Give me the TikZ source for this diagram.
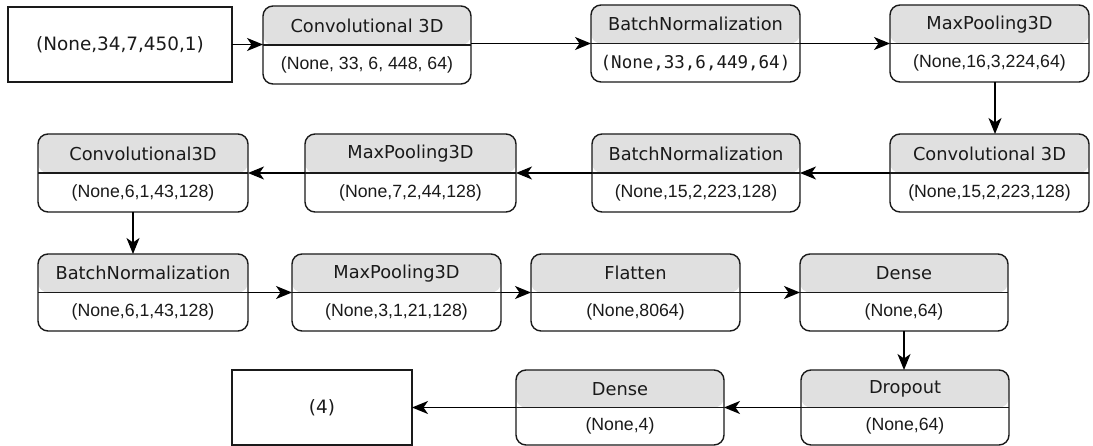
\documentclass[tikz,border=0pt]{standalone}
\usepackage{fontspec}
\usetikzlibrary{arrows.meta,calc}
\newfontfamily\hdfont{DejaVu Sans}
\newfontfamily\valfont{Liberation Sans}
\newfontfamily\mnfont{DejaVu Sans Mono}
\definecolor{headgray}{HTML}{E0E0E0}
\definecolor{ink}{HTML}{1A1A1A}
\tikzset{
  layerbox/.style={draw=ink, line width=1.4pt, rounded corners=10pt, inner sep=0pt, outer sep=0pt,
    path picture={
      \fill[headgray] (path picture bounding box.north west) rectangle (path picture bounding box.east);
      \draw[ink, line width=1.3pt] (path picture bounding box.west) -- (path picture bounding box.east);
    }},
  plainbox/.style={draw=ink, line width=1.4pt, inner sep=0pt, outer sep=0pt, fill=white},
  hdtxt/.style={inner sep=0pt, text=ink, font=\hdfont\fontsize{17.8}{20}\selectfont},
  valtxt/.style={inner sep=0pt, text=ink, font=\valfont\fontsize{17.7}{20}\selectfont},
  montxt/.style={inner sep=0pt, text=ink, font=\mnfont\fontsize{17.5}{20}\selectfont},
  iotxt/.style={inner sep=0pt, text=ink, font=\hdfont\fontsize{18.4}{20}\selectfont},
  arr/.style={draw=black, line width=1.3pt, -{Stealth[length=16pt,width=13pt,inset=4.5pt]}},
}
\newcommand\layer[8]{%
  \node[layerbox, minimum width={(#4-#2)*1pt}, minimum height={(#5-#3)*1pt}] (#1) at ({(#2+#4)/2},{-(#3+#5)/2}) {};
  \node[hdtxt] (#1h) at ($(#1.north)!0.5!(#1.center)$) {#6};
  \node[#7] (#1v) at ($(#1.south)!0.5!(#1.center)$) {#8};
}
\begin{document}
\begin{tikzpicture}[x=1pt,y=1pt]
\useasboundingbox[fill=white] (0,0) rectangle (1093,-446);
% input / output
\node[plainbox, minimum width=224pt, minimum height=75pt] (in) at (120,-44.5) {};
\node[iotxt] (intx) at (in.center) {(None,34,7,450,1)};
\node[plainbox, minimum width=180pt, minimum height=75pt] (out) at (322,-407.5) {};
\node[iotxt] (outtx) at (out.center) {(4)};
% row 1
\layer{c1}{263}{6}{471}{84}{Convolutional 3D}{valtxt}{(None, 33, 6, 448, 64)}
\layer{bn1}{591}{5}{800}{82}{BatchNormalization}{montxt}{(None,33,6,449,64)}
\layer{mp1}{890}{5}{1089}{82}{MaxPooling3D}{valtxt}{(None,16,3,224,64)}
% row 2
\layer{c3}{38}{134}{248}{212}{Convolutional3D}{valtxt}{(None,6,1,43,128)}
\layer{mp2}{305}{134}{516}{212}{MaxPooling3D}{valtxt}{(None,7,2,44,128)}
\layer{bn2}{592}{134}{800}{212}{BatchNormalization}{valtxt}{(None,15,2,223,128)}
\layer{c2}{890}{134}{1089}{212}{Convolutional 3D}{valtxt}{(None,15,2,223,128)}
% row 3
\layer{bn3}{38}{254}{248}{331}{BatchNormalization}{valtxt}{(None,6,1,43,128)}
\layer{mp3}{292}{254}{501}{331}{MaxPooling3D}{valtxt}{(None,3,1,21,128)}
\layer{fl}{531}{254}{740}{331}{Flatten}{valtxt}{(None,8064)}
\layer{d1}{800}{254}{1008}{331}{Dense}{valtxt}{(None,64)}
% row 4
\layer{d2}{516}{370}{724}{445}{Dense}{valtxt}{(None,4)}
\layer{dr}{801}{370}{1009}{445}{Dropout}{valtxt}{(None,64)}
% connectors
\draw[arr] (in.east) -- (in.east -| c1.west);
\draw[arr] (c1.east |- bn1.west) -- (bn1.west);
\draw[arr] (bn1.east) -- (mp1.west);
\draw[arr] ([xshift=5.5pt]mp1.south) -- ([xshift=5.5pt]mp1.south |- c2.north);
\draw[arr] (c2.west) -- (bn2.east);
\draw[arr] (bn2.west) -- (mp2.east);
\draw[arr] (mp2.west) -- (c3.east);
\draw[arr] ([xshift=-10pt]c3.south) -- ([xshift=-10pt]c3.south |- bn3.north);
\draw[arr] (bn3.east) -- (mp3.west);
\draw[arr] (mp3.east) -- (fl.west);
\draw[arr] (fl.east) -- (d1.west);
\draw[arr] (d1.south) -- (d1.south |- dr.north);
\draw[arr] (dr.west) -- (d2.east);
\draw[arr] (d2.west) -- (out.east);
\end{tikzpicture}
\end{document}
